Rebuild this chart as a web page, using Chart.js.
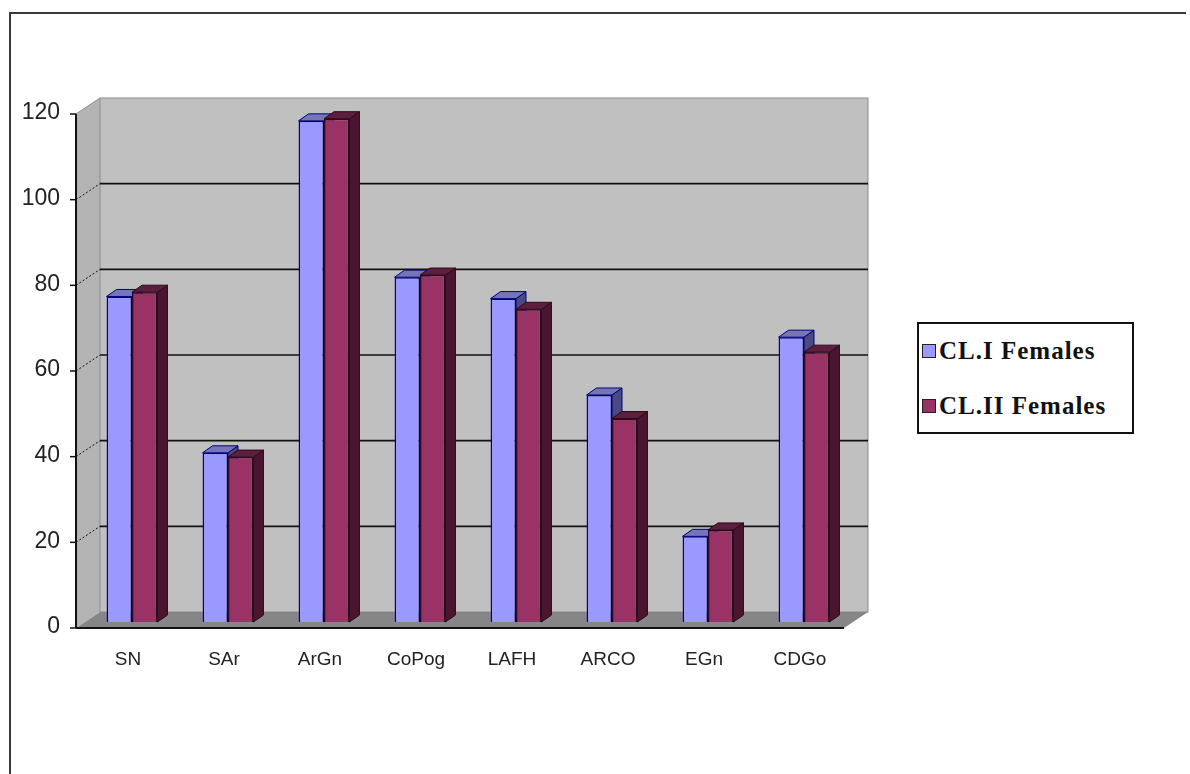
<!DOCTYPE html>
<html>
<head>
<meta charset="utf-8">
<script src="https://cdn.jsdelivr.net/npm/chart.js@4"></script>
<style>
  html, body { margin: 0; padding: 0; background: #fff; }
  #wrap { position: relative; width: 1190px; height: 774px; overflow: hidden; }
  #frame { position: absolute; left: 9px; top: 12px; right: 4px; bottom: -4px;
           border-top: 2px solid #3a3a3a; border-left: 2px solid #3a3a3a; }
  #legend { position: absolute; left: 917px; top: 322px; width: 213px; height: 108px;
            border: 2px solid #111; background: #fff; }
  .item { position: absolute; left: 3px; font: bold 25px "Liberation Serif", "Times New Roman", serif;
          letter-spacing: 1px; color: #111; white-space: nowrap; }
  .swatch { display: inline-block; width: 12px; height: 12px; margin-right: 3px;
            border: 1px solid #222; vertical-align: 1px; }
</style>
</head>
<body>
<div id="wrap">
  <div id="frame"></div>
  <canvas id="chart" width="1190" height="774"></canvas>
  <div id="legend"></div>
</div>
<script>
const categories = ['SN', 'SAr', 'ArGn', 'CoPog', 'LAFH', 'ARCO', 'EGn', 'CDGo'];
const seriesNames = ['CL.I Females', 'CL.II Females'];
const clIFemales = [76, 39.5, 117, 80.5, 75.5, 53, 20, 66.5];
const clIIFemales = [77, 38.5, 117.5, 81, 73, 47.5, 21.5, 63];
const yTicks = [0, 20, 40, 60, 80, 100, 120];

const faceColors = ['#9999ff', '#993366'];
const edgeColors = ['#000080', '#2a0a1c'];
const topColors = ['#7676b6', '#5e1e3e'];
const sideColors = ['#4a4a80', '#4a1530'];

// depth offsets for the fake 3D look
const DEPTH = { dx: 10, dy: -7 };
const FRONT = { dx: -8, dy: 6 };
const BACK = { dx: 16, dy: -10 };

function drawBarDepth(ctx, bar, i) {
  const l = bar.x - bar.width / 2, r = bar.x + bar.width / 2;
  const t = bar.y, b = bar.base;
  ctx.strokeStyle = edgeColors[i];
  ctx.lineWidth = 1;
  ctx.fillStyle = sideColors[i];
  ctx.beginPath();
  ctx.moveTo(r, t);
  ctx.lineTo(r + DEPTH.dx, t + DEPTH.dy);
  ctx.lineTo(r + DEPTH.dx, b + DEPTH.dy);
  ctx.lineTo(r, b);
  ctx.closePath();
  ctx.fill();
  ctx.stroke();
  ctx.fillStyle = topColors[i];
  ctx.beginPath();
  ctx.moveTo(l, t);
  ctx.lineTo(l + DEPTH.dx, t + DEPTH.dy);
  ctx.lineTo(r + DEPTH.dx, t + DEPTH.dy);
  ctx.lineTo(r, t);
  ctx.closePath();
  ctx.fill();
  ctx.stroke();
}

const wallPlugin = {
  id: 'wall',
  beforeDatasetsDraw(chart) {
    const { ctx, chartArea: a, scales: { y } } = chart;
    const y0 = y.getPixelForValue(0), yTop = y.getPixelForValue(120);
    ctx.save();
    // back wall
    ctx.fillStyle = '#c0c0c0';
    ctx.fillRect(a.left + BACK.dx, yTop + BACK.dy, a.right - a.left, y0 - yTop);
    // side wall
    ctx.fillStyle = '#b4b4b4';
    ctx.beginPath();
    ctx.moveTo(a.left + FRONT.dx, yTop + FRONT.dy);
    ctx.lineTo(a.left + BACK.dx, yTop + BACK.dy);
    ctx.lineTo(a.left + BACK.dx, y0 + BACK.dy);
    ctx.lineTo(a.left + FRONT.dx, y0 + FRONT.dy);
    ctx.closePath();
    ctx.fill();
    ctx.strokeStyle = '#8c8c8c';
    ctx.lineWidth = 1;
    ctx.strokeRect(a.left + BACK.dx, yTop + BACK.dy, a.right - a.left, y0 - yTop);
    ctx.beginPath();
    ctx.moveTo(a.left + FRONT.dx, yTop + FRONT.dy);
    ctx.lineTo(a.left + BACK.dx, yTop + BACK.dy);
    ctx.stroke();
    // grid lines on back wall + connectors on side wall
    yTicks.forEach(v => {
      if (v === 0 || v === 120) return;
      const py = y.getPixelForValue(v);
      ctx.strokeStyle = '#111';
      ctx.lineWidth = 1.6;
      ctx.setLineDash([]);
      ctx.beginPath();
      ctx.moveTo(a.left + BACK.dx, py + BACK.dy);
      ctx.lineTo(a.right + BACK.dx, py + BACK.dy);
      ctx.stroke();
      ctx.lineWidth = 1;
      ctx.setLineDash([2, 2]);
      ctx.beginPath();
      ctx.moveTo(a.left + FRONT.dx, py + FRONT.dy);
      ctx.lineTo(a.left + BACK.dx, py + BACK.dy);
      ctx.stroke();
    });
    ctx.setLineDash([]);
    // floor
    ctx.fillStyle = '#868686';
    ctx.beginPath();
    ctx.moveTo(a.left + FRONT.dx, y0 + FRONT.dy);
    ctx.lineTo(a.left + BACK.dx, y0 + BACK.dy);
    ctx.lineTo(a.right + BACK.dx, y0 + BACK.dy);
    ctx.lineTo(a.right + FRONT.dx, y0 + FRONT.dy);
    ctx.closePath();
    ctx.fill();
    ctx.strokeStyle = '#111';
    ctx.lineWidth = 2;
    ctx.beginPath();
    ctx.moveTo(a.left + FRONT.dx, y0 + FRONT.dy);
    ctx.lineTo(a.right + FRONT.dx, y0 + FRONT.dy);
    ctx.stroke();
    // front axis with tick marks
    ctx.beginPath();
    ctx.moveTo(a.left + FRONT.dx, yTop + FRONT.dy);
    ctx.lineTo(a.left + FRONT.dx, y0 + FRONT.dy);
    ctx.stroke();
    ctx.lineWidth = 1.5;
    yTicks.forEach(v => {
      const py = y.getPixelForValue(v) + FRONT.dy;
      ctx.beginPath();
      ctx.moveTo(a.left + FRONT.dx - 6, py);
      ctx.lineTo(a.left + FRONT.dx, py);
      ctx.stroke();
    });
    // top and right faces of every bar, left series first; the front faces come after
    chart.data.datasets.forEach((ds, i) => {
      chart.getDatasetMeta(i).data.forEach(bar => drawBarDepth(ctx, bar, i));
    });
    ctx.restore();
  }
};

new Chart(document.getElementById('chart'), {
  type: 'bar',
  data: {
    labels: categories,
    datasets: [
      { label: seriesNames[0], data: clIFemales,
        backgroundColor: faceColors[0], borderColor: edgeColors[0], borderWidth: 1.5 },
      { label: seriesNames[1], data: clIIFemales,
        backgroundColor: faceColors[1], borderColor: edgeColors[1], borderWidth: 1.5 }
    ]
  },
  options: {
    responsive: false,
    animation: false,
    devicePixelRatio: 1,
    layout: { padding: { left: 0, top: 108, right: 338, bottom: 92 } },
    datasets: { bar: { categoryPercentage: 0.53, barPercentage: 1 } },
    plugins: { legend: { display: false }, tooltip: { enabled: false } },
    scales: {
      x: {
        grid: { display: false, drawTicks: false },
        border: { display: false },
        ticks: { padding: 26, labelOffset: -4, color: '#222',
                 font: { family: 'Liberation Sans, Arial', size: 19 } },
        afterFit(scale) { scale.height = 60; }
      },
      y: {
        min: 0, max: 120,
        grid: { display: false, drawTicks: false },
        border: { display: false },
        ticks: { stepSize: 20, padding: 24, labelOffset: 5, color: '#222',
                 font: { family: 'Liberation Sans, Arial', size: 23 } },
        afterFit(scale) { scale.width = 84; }
      }
    }
  },
  plugins: [wallPlugin]
});

// legend built from the series names
const legend = document.getElementById('legend');
seriesNames.forEach((name, i) => {
  const item = document.createElement('div');
  item.className = 'item';
  item.style.top = (i === 0 ? 13 : 68) + 'px';
  item.innerHTML = '<span class="swatch" style="background:' + faceColors[i] + '"></span>' + name;
  legend.appendChild(item);
});
</script>
</body>
</html>
